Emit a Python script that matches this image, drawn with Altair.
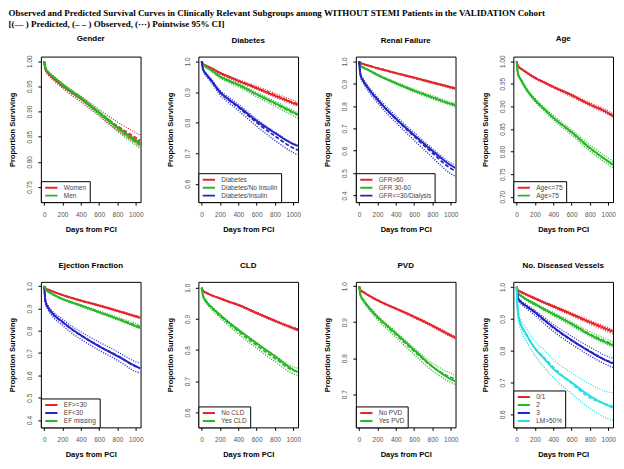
import altair as alt
import pandas as pd

DAYS = [0, 15, 50, 100, 200, 300, 400, 600, 800, 1000, 1050]
XTICKS = [0, 200, 400, 600, 800, 1000]
KINDS = ["pred", "obs", "lo", "hi"]

RED, GREEN, BLUE, CYAN = "#e3262e", "#27b827", "#2424c8", "#26dede"

# ---------- Gender ----------
women_pred = [1.000, 0.984, 0.975, 0.966, 0.951, 0.938, 0.925, 0.897, 0.868, 0.843, 0.837]
women_obs = [1.000, 0.983, 0.974, 0.966, 0.950, 0.937, 0.925, 0.898, 0.871, 0.848, 0.842]
women_lo = [1.000, 0.981, 0.971, 0.962, 0.946, 0.932, 0.919, 0.891, 0.862, 0.837, 0.830]
women_hi = [1.000, 0.985, 0.977, 0.969, 0.954, 0.941, 0.930, 0.904, 0.879, 0.858, 0.853]
men_pred = [1.000, 0.986, 0.977, 0.969, 0.954, 0.940, 0.927, 0.898, 0.868, 0.841, 0.835]
men_obs = [1.000, 0.986, 0.977, 0.969, 0.953, 0.940, 0.927, 0.897, 0.866, 0.839, 0.833]
men_lo = [1.000, 0.985, 0.975, 0.967, 0.951, 0.937, 0.924, 0.893, 0.861, 0.833, 0.826]
men_hi = [1.000, 0.987, 0.979, 0.971, 0.956, 0.943, 0.930, 0.901, 0.871, 0.845, 0.840]

# ---------- Diabetes ----------
dm0_pred = [1.000, 0.992, 0.986, 0.979, 0.963, 0.950, 0.937, 0.913, 0.888, 0.864, 0.858]
dm0_obs = [1.000, 0.992, 0.986, 0.978, 0.962, 0.949, 0.937, 0.914, 0.890, 0.866, 0.861]
dm0_lo = [1.000, 0.991, 0.984, 0.976, 0.959, 0.946, 0.933, 0.909, 0.884, 0.859, 0.853]
dm0_hi = [1.000, 0.993, 0.988, 0.980, 0.965, 0.952, 0.941, 0.919, 0.896, 0.873, 0.868]
dm1_pred = [1.000, 0.990, 0.982, 0.973, 0.951, 0.937, 0.924, 0.893, 0.864, 0.834, 0.827]
dm1_obs = [1.000, 0.990, 0.982, 0.972, 0.950, 0.936, 0.923, 0.892, 0.862, 0.831, 0.824]
dm1_lo = [1.000, 0.989, 0.980, 0.969, 0.946, 0.931, 0.917, 0.885, 0.854, 0.822, 0.814]
dm1_hi = [1.000, 0.991, 0.984, 0.975, 0.954, 0.941, 0.929, 0.899, 0.870, 0.840, 0.833]
dm2_pred = [1.000, 0.975, 0.958, 0.940, 0.900, 0.875, 0.853, 0.806, 0.766, 0.730, 0.724]
dm2_obs = [1.000, 0.975, 0.958, 0.939, 0.899, 0.873, 0.850, 0.800, 0.756, 0.717, 0.710]
dm2_lo = [1.000, 0.972, 0.953, 0.933, 0.891, 0.864, 0.840, 0.788, 0.742, 0.702, 0.695]
dm2_hi = [1.000, 0.978, 0.962, 0.944, 0.906, 0.882, 0.860, 0.812, 0.769, 0.732, 0.726]

# ---------- Renal Failure ----------
gfr1_pred = [1.000, 0.994, 0.988, 0.982, 0.970, 0.959, 0.948, 0.928, 0.906, 0.885, 0.880]
gfr1_obs = [1.000, 0.994, 0.988, 0.982, 0.970, 0.959, 0.948, 0.927, 0.905, 0.884, 0.879]
gfr1_lo = [1.000, 0.993, 0.987, 0.981, 0.968, 0.957, 0.946, 0.924, 0.902, 0.880, 0.874]
gfr1_hi = [1.000, 0.995, 0.989, 0.983, 0.972, 0.961, 0.951, 0.930, 0.909, 0.888, 0.883]
gfr2_pred = [1.000, 0.982, 0.972, 0.962, 0.940, 0.921, 0.903, 0.869, 0.839, 0.810, 0.804]
gfr2_obs = [1.000, 0.982, 0.972, 0.962, 0.940, 0.921, 0.903, 0.870, 0.840, 0.811, 0.806]
gfr2_lo = [1.000, 0.980, 0.970, 0.959, 0.936, 0.917, 0.898, 0.864, 0.833, 0.804, 0.797]
gfr2_hi = [1.000, 0.984, 0.975, 0.965, 0.944, 0.925, 0.908, 0.876, 0.847, 0.818, 0.813]
gfr3_pred = [1.000, 0.940, 0.910, 0.880, 0.830, 0.785, 0.745, 0.670, 0.600, 0.535, 0.523]
gfr3_obs = [1.000, 0.940, 0.910, 0.879, 0.828, 0.783, 0.742, 0.664, 0.590, 0.521, 0.510]
gfr3_lo = [1.000, 0.932, 0.900, 0.868, 0.815, 0.769, 0.727, 0.647, 0.570, 0.497, 0.485]
gfr3_hi = [1.000, 0.948, 0.920, 0.890, 0.841, 0.797, 0.757, 0.681, 0.610, 0.546, 0.535]

# ---------- Age ----------
age1_pred = [1.000, 0.989, 0.983, 0.976, 0.963, 0.953, 0.943, 0.925, 0.904, 0.885, 0.879]
age1_obs = [1.000, 0.989, 0.983, 0.976, 0.963, 0.953, 0.943, 0.924, 0.904, 0.886, 0.880]
age1_lo = [1.000, 0.988, 0.982, 0.975, 0.961, 0.951, 0.941, 0.921, 0.901, 0.882, 0.876]
age1_hi = [1.000, 0.990, 0.984, 0.977, 0.965, 0.955, 0.945, 0.927, 0.908, 0.890, 0.884]
age2_pred = [1.000, 0.972, 0.958, 0.940, 0.914, 0.894, 0.875, 0.843, 0.808, 0.778, 0.771]
age2_obs = [1.000, 0.972, 0.958, 0.940, 0.914, 0.894, 0.875, 0.842, 0.807, 0.778, 0.771]
age2_lo = [1.000, 0.970, 0.955, 0.937, 0.910, 0.890, 0.870, 0.837, 0.801, 0.771, 0.764]
age2_hi = [1.000, 0.974, 0.961, 0.943, 0.918, 0.898, 0.880, 0.848, 0.814, 0.785, 0.778]

# ---------- Ejection Fraction ----------
ef1_pred = [1.000, 0.990, 0.983, 0.975, 0.960, 0.947, 0.935, 0.913, 0.889, 0.864, 0.858]
ef1_obs = [1.000, 0.990, 0.983, 0.975, 0.960, 0.947, 0.935, 0.913, 0.889, 0.865, 0.859]
ef1_lo = [1.000, 0.989, 0.982, 0.974, 0.958, 0.945, 0.933, 0.910, 0.886, 0.861, 0.855]
ef1_hi = [1.000, 0.991, 0.984, 0.976, 0.962, 0.949, 0.938, 0.916, 0.893, 0.869, 0.863]
ef2_pred = [1.000, 0.930, 0.900, 0.874, 0.840, 0.808, 0.780, 0.730, 0.686, 0.641, 0.631]
ef2_obs = [1.000, 0.930, 0.898, 0.872, 0.838, 0.806, 0.779, 0.731, 0.688, 0.640, 0.632]
ef2_lo = [1.000, 0.922, 0.888, 0.860, 0.824, 0.790, 0.762, 0.712, 0.668, 0.617, 0.610]
ef2_hi = [1.000, 0.938, 0.908, 0.884, 0.852, 0.821, 0.795, 0.749, 0.706, 0.661, 0.654]
ef3_pred = [1.000, 0.985, 0.974, 0.962, 0.942, 0.927, 0.913, 0.883, 0.853, 0.820, 0.812]
ef3_obs = [1.000, 0.985, 0.974, 0.962, 0.942, 0.927, 0.913, 0.884, 0.855, 0.825, 0.818]
ef3_lo = [1.000, 0.984, 0.972, 0.960, 0.939, 0.924, 0.909, 0.879, 0.849, 0.818, 0.811]
ef3_hi = [1.000, 0.986, 0.976, 0.964, 0.945, 0.931, 0.917, 0.889, 0.861, 0.832, 0.825]

# ---------- CLD ----------
cld0_pred = [1.000, 0.990, 0.984, 0.977, 0.966, 0.955, 0.945, 0.919, 0.894, 0.870, 0.864]
cld0_obs = [1.000, 0.990, 0.984, 0.977, 0.966, 0.955, 0.945, 0.919, 0.894, 0.871, 0.866]
cld0_lo = [1.000, 0.989, 0.983, 0.976, 0.964, 0.953, 0.943, 0.916, 0.891, 0.867, 0.861]
cld0_hi = [1.000, 0.991, 0.985, 0.978, 0.968, 0.957, 0.947, 0.922, 0.897, 0.874, 0.869]
cld1_pred = [1.000, 0.975, 0.956, 0.940, 0.913, 0.888, 0.865, 0.822, 0.780, 0.737, 0.729]
cld1_obs = [1.000, 0.975, 0.955, 0.938, 0.910, 0.884, 0.860, 0.815, 0.773, 0.735, 0.731]
cld1_lo = [1.000, 0.972, 0.951, 0.933, 0.904, 0.877, 0.852, 0.806, 0.763, 0.724, 0.719]
cld1_hi = [1.000, 0.978, 0.959, 0.943, 0.916, 0.891, 0.868, 0.824, 0.783, 0.746, 0.742]

# ---------- PVD ----------
pvd0_pred = [1.000, 0.989, 0.983, 0.975, 0.961, 0.949, 0.938, 0.915, 0.890, 0.863, 0.857]
pvd0_obs = [1.000, 0.989, 0.983, 0.975, 0.961, 0.949, 0.938, 0.915, 0.890, 0.864, 0.858]
pvd0_lo = [1.000, 0.988, 0.982, 0.974, 0.959, 0.947, 0.936, 0.912, 0.887, 0.860, 0.854]
pvd0_hi = [1.000, 0.990, 0.984, 0.976, 0.963, 0.951, 0.940, 0.918, 0.893, 0.867, 0.861]
pvd1_pred = [1.000, 0.975, 0.960, 0.943, 0.915, 0.891, 0.869, 0.823, 0.777, 0.742, 0.736]
pvd1_obs = [1.000, 0.975, 0.959, 0.942, 0.913, 0.889, 0.866, 0.819, 0.776, 0.747, 0.742]
pvd1_lo = [1.000, 0.972, 0.955, 0.937, 0.907, 0.882, 0.858, 0.810, 0.765, 0.733, 0.727]
pvd1_hi = [1.000, 0.978, 0.963, 0.947, 0.919, 0.896, 0.874, 0.828, 0.786, 0.758, 0.752]

# ---------- No. Diseased Vessels ----------
v01_pred = [1.000, 0.990, 0.984, 0.977, 0.964, 0.951, 0.939, 0.915, 0.890, 0.866, 0.860]
v01_obs = [1.000, 0.990, 0.984, 0.977, 0.964, 0.951, 0.939, 0.914, 0.889, 0.865, 0.859]
v01_lo = [1.000, 0.989, 0.982, 0.975, 0.961, 0.948, 0.935, 0.910, 0.884, 0.859, 0.853]
v01_hi = [1.000, 0.991, 0.986, 0.979, 0.967, 0.954, 0.943, 0.919, 0.895, 0.872, 0.866]
v2_pred = [1.000, 0.980, 0.972, 0.962, 0.946, 0.930, 0.915, 0.884, 0.850, 0.823, 0.817]
v2_obs = [1.000, 0.980, 0.972, 0.962, 0.946, 0.930, 0.915, 0.884, 0.852, 0.826, 0.820]
v2_lo = [1.000, 0.978, 0.969, 0.959, 0.942, 0.926, 0.910, 0.878, 0.845, 0.818, 0.812]
v2_hi = [1.000, 0.982, 0.975, 0.965, 0.950, 0.934, 0.920, 0.890, 0.859, 0.834, 0.828]
v3_pred = [1.000, 0.965, 0.952, 0.941, 0.921, 0.897, 0.874, 0.833, 0.797, 0.766, 0.760]
v3_obs = [1.000, 0.965, 0.951, 0.940, 0.919, 0.895, 0.872, 0.832, 0.798, 0.767, 0.762]
v3_lo = [1.000, 0.961, 0.946, 0.934, 0.911, 0.885, 0.861, 0.820, 0.784, 0.753, 0.747]
v3_hi = [1.000, 0.969, 0.956, 0.946, 0.927, 0.904, 0.883, 0.845, 0.811, 0.781, 0.776]
lm_pred = [1.000, 0.920, 0.880, 0.854, 0.807, 0.775, 0.743, 0.700, 0.658, 0.627, 0.621]
lm_obs = [1.000, 0.918, 0.878, 0.852, 0.808, 0.778, 0.748, 0.697, 0.652, 0.630, 0.625]
lm_lo = [1.000, 0.905, 0.862, 0.833, 0.784, 0.748, 0.715, 0.665, 0.618, 0.586, 0.581]
lm_hi = [1.000, 0.933, 0.896, 0.873, 0.830, 0.802, 0.772, 0.730, 0.695, 0.670, 0.668]

TICKS_05A = [0.75, 0.80, 0.85, 0.90, 0.95, 1.00]
TICKS_05B = [0.70, 0.75, 0.80, 0.85, 0.90, 0.95, 1.00]
TICKS_6 = [0.6, 0.7, 0.8, 0.9, 1.0]
TICKS_4 = [0.4, 0.5, 0.6, 0.7, 0.8, 0.9, 1.0]
TICKS_7 = [0.7, 0.8, 0.9, 1.0]

TITLE_LINES = [
    "Observed and Predicted Survival Curves in Clinically Relevant Subgroups among WITHOUT STEMI Patients in the VALIDATION Cohort",
    "[(\u2014 ) Predicted, (\u2013 \u2013 ) Observed, (\u00b7\u00b7\u00b7) Pointwise 95% CI]",
]

SANS = "Liberation Sans"


def panel(title, groups, ydom, yticks, fmt):
    rows = []
    names, colors = [], []
    for name, color, series in groups:
        names.append(name)
        colors.append(color)
        for kind, vals in zip(KINDS, series):
            for d, v in zip(DAYS, vals):
                rows.append({"day": d, "value": v, "group": name, "kind": kind})
    df = pd.DataFrame(rows)
    return (
        alt.Chart(
            df,
            title=alt.TitleParams(title, font=SANS, fontSize=8, fontWeight="bold",
                                  color="black", offset=12),
        )
        .mark_line(interpolate="monotone", clip=True)
        .encode(
            x=alt.X("day:Q",
                    scale=alt.Scale(domain=[-36, 1052], nice=False, zero=False),
                    axis=alt.Axis(values=XTICKS, title="Days from PCI", format="d",
                                  labelPadding=6, titlePadding=8)),
            y=alt.Y("value:Q",
                    scale=alt.Scale(domain=ydom, nice=False, zero=False),
                    axis=alt.Axis(values=yticks, format=fmt, title="Proportion Surviving",
                                  labelAngle=-90, labelAlign="center", labelBaseline="bottom",
                                  labelPadding=5, titlePadding=10)),
            color=alt.Color("group:N",
                            scale=alt.Scale(domain=names, range=colors),
                            sort=names,
                            legend=alt.Legend(title=None, orient="bottom-left", offset=0,
                                              padding=3, strokeColor="black", fillColor="white",
                                              symbolType="stroke", symbolStrokeWidth=2,
                                              symbolSize=150, labelFontSize=6.5, labelFont=SANS,
                                              labelColor="#444", rowPadding=1, labelOffset=5,
                                              clipHeight=7, labelLimit=200)),
            strokeDash=alt.StrokeDash("kind:N",
                                      scale=alt.Scale(domain=KINDS,
                                                      range=[[1, 0], [4, 2], [1, 1.5], [1, 1.5]]),
                                      legend=None),
            strokeWidth=alt.StrokeWidth("kind:O",
                                        scale=alt.Scale(domain=KINDS, range=[2, 1.2, 0.7, 0.7]),
                                        legend=None),
        )
        .properties(width=100, height=146)
    )


p_gender = panel("Gender", [
    ("Women", RED, [women_pred, women_obs, women_lo, women_hi]),
    ("Men", GREEN, [men_pred, men_obs, men_lo, men_hi]),
], [0.72, 1.009], TICKS_05A, ".2f")

p_diab = panel("Diabetes", [
    ("Diabetes", RED, [dm0_pred, dm0_obs, dm0_lo, dm0_hi]),
    ("Diabetes/No Insulin", GREEN, [dm1_pred, dm1_obs, dm1_lo, dm1_hi]),
    ("Diabetes/Insulin", BLUE, [dm2_pred, dm2_obs, dm2_lo, dm2_hi]),
], [0.54, 1.016], TICKS_6, ".1f")

p_renal = panel("Renal Failure", [
    ("GFR>60", RED, [gfr1_pred, gfr1_obs, gfr1_lo, gfr1_hi]),
    ("GFR 30-60", GREEN, [gfr2_pred, gfr2_obs, gfr2_lo, gfr2_hi]),
    ("GFR<=30/Dialysis", BLUE, [gfr3_pred, gfr3_obs, gfr3_lo, gfr3_hi]),
], [0.37, 1.022], TICKS_4, ".1f")

p_age = panel("Age", [
    ("Age<=75", RED, [age1_pred, age1_obs, age1_lo, age1_hi]),
    ("Age>75", GREEN, [age2_pred, age2_obs, age2_lo, age2_hi]),
], [0.688, 1.01], TICKS_05B, ".2f")

p_ef = panel("Ejection Fraction", [
    ("EF>=30", RED, [ef1_pred, ef1_obs, ef1_lo, ef1_hi]),
    ("EF<30", BLUE, [ef2_pred, ef2_obs, ef2_lo, ef2_hi]),
    ("EF missing", GREEN, [ef3_pred, ef3_obs, ef3_lo, ef3_hi]),
], [0.367, 1.019], TICKS_4, ".1f")

p_cld = panel("CLD", [
    ("No CLD", RED, [cld0_pred, cld0_obs, cld0_lo, cld0_hi]),
    ("Yes CLD", GREEN, [cld1_pred, cld1_obs, cld1_lo, cld1_hi]),
], [0.552, 1.019], TICKS_6, ".1f")

p_pvd = panel("PVD", [
    ("No PVD", RED, [pvd0_pred, pvd0_obs, pvd0_lo, pvd0_hi]),
    ("Yes PVD", GREEN, [pvd1_pred, pvd1_obs, pvd1_lo, pvd1_hi]),
], [0.608, 1.012], TICKS_7, ".1f")

p_ves = panel("No. Diseased Vessels", [
    ("0/1", RED, [v01_pred, v01_obs, v01_lo, v01_hi]),
    ("2", GREEN, [v2_pred, v2_obs, v2_lo, v2_hi]),
    ("3", BLUE, [v3_pred, v3_obs, v3_lo, v3_hi]),
    ("LM>50%", CYAN, [lm_pred, lm_obs, lm_lo, lm_hi]),
], [0.559, 1.016], TICKS_6, ".1f")


def row(charts):
    return (alt.hconcat(*charts, spacing=22)
            .resolve_scale(x="independent", y="independent", color="independent",
                           strokeDash="independent", strokeWidth="independent")
            .resolve_legend(color="independent"))


chart = (
    alt.vconcat(
        row([p_gender, p_diab, p_renal, p_age]),
        row([p_ef, p_cld, p_pvd, p_ves]),
        spacing=27,
        title=alt.TitleParams(TITLE_LINES, anchor="start", font="Liberation Serif",
                              fontSize=9, fontWeight="bold", color="black",
                              offset=5, lineHeight=11),
    )
    .resolve_scale(x="independent", y="independent", color="independent",
                   strokeDash="independent", strokeWidth="independent")
    .resolve_legend(color="independent")
    .properties(padding=0, background="white")
    .configure_view(stroke="black", strokeWidth=1)
    .configure_axis(grid=False, domain=False, tickColor="black", tickSize=3,
                    labelFont=SANS, labelFontSize=6.5, labelColor="#555",
                    titleFont=SANS, titleFontSize=7.5, titleFontWeight="bold",
                    titleColor="black")
)

chart.save("out.html", embed_options={"renderer": "svg", "actions": False})
